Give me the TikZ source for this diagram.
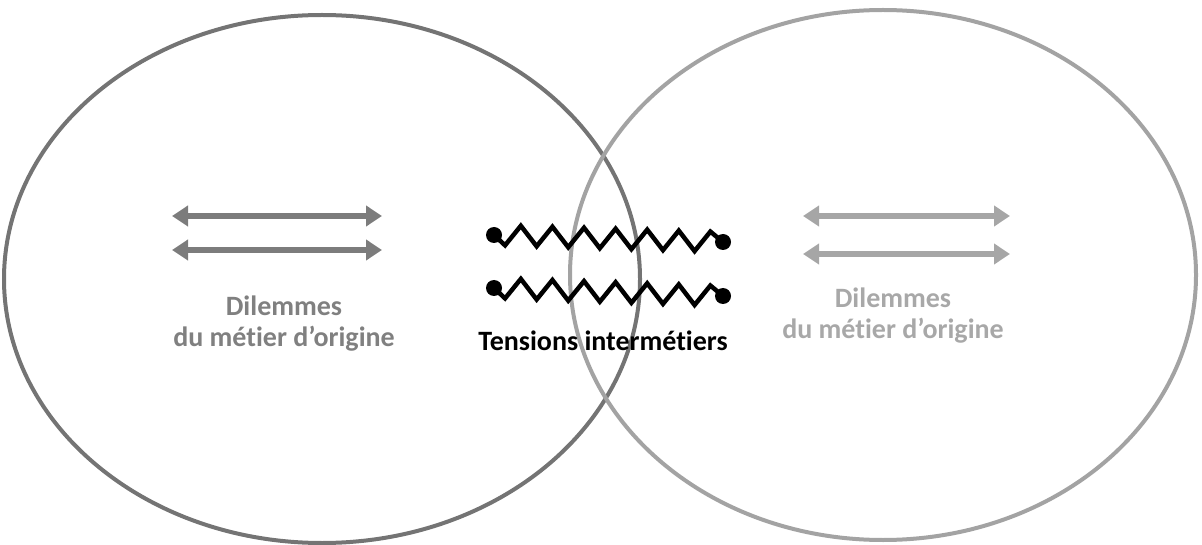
\documentclass[tikz,border=0pt]{standalone}
\usepackage{fontspec}
\setmainfont[Ligatures={NoCommon}]{Carlito}
\usetikzlibrary{arrows.meta,calc}
\definecolor{ringL}{HTML}{747474}
\definecolor{ringR}{HTML}{A3A3A3}
\definecolor{arrL}{HTML}{7C7C7C}
\definecolor{arrR}{HTML}{A6A6A6}
\definecolor{txtL}{HTML}{808080}
\definecolor{txtR}{HTML}{A8A8A8}
\tikzset{
  ring/.style={line width=4pt},
  dbl/.style={line width=6pt, {Triangle[width=20pt,length=16pt]}-{Triangle[width=20pt,length=16pt]}},
  lbl/.style={font=\bfseries\fontsize{28}{31}\selectfont, align=center, inner sep=0pt},
  dot/.style={circle, fill=black, inner sep=0pt, minimum size=16pt},
  spring/.style={line width=4.5pt, line join=miter}
}
\begin{document}
\begin{tikzpicture}[x=1pt,y=-1pt]
\useasboundingbox (0,0) rectangle (1202,545);
\draw[ring, ringL] (322,279) ellipse [x radius=318, y radius=264];
\draw[ring, ringR] (883,275) ellipse [x radius=313, y radius=265];
% left arrows
\coordinate (la1) at (172,216); \coordinate (lb1) at (382,216);
\coordinate (la2) at (172,250); \coordinate (lb2) at (382,250);
\draw[dbl, arrL] (la1) -- (lb1);
\draw[dbl, arrL] (la2) -- (lb2);
% right arrows
\coordinate (ra1) at (803,216); \coordinate (rb1) at (1010,216);
\coordinate (ra2) at (803,254); \coordinate (rb2) at (1010,254);
\draw[dbl, arrR] (ra1) -- (rb1);
\draw[dbl, arrR] (ra2) -- (rb2);
% texts
\node[lbl, txtL] (tl) at (284,324) {Dilemmes\\du métier d’origine};
\node[lbl, txtR] (tr) at (893,316) {Dilemmes\\du métier d’origine};
\node[lbl, black] (tm) at (603,341) {Tensions intermétiers};
% springs
\node[dot] (s1a) at (494,235) {};
\node[dot] (s1b) at (723,242) {};
\node[dot] (s2a) at (494,288) {};
\node[dot] (s2b) at (723,296) {};
\draw[spring] (s1a.center)
  foreach \i in {1,...,14} { -- ($(s1a.center)!{(\i-0.3)/14.5}!(s1b.center) + (0,{ifthenelse(mod(\i,2)==0,-10,10)})$) }
  -- (s1b.center);
\draw[spring] (s2a.center)
  foreach \i in {1,...,14} { -- ($(s2a.center)!{(\i-0.3)/14.5}!(s2b.center) + (0,{ifthenelse(mod(\i,2)==0,-10,10)})$) }
  -- (s2b.center);
\end{tikzpicture}
\end{document}
